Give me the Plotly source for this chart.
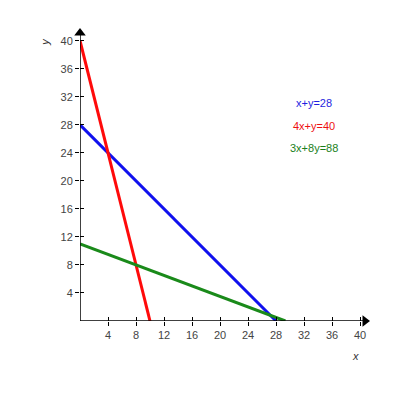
import plotly.graph_objects as go

ticks = [4, 8, 12, 16, 20, 24, 28, 32, 36, 40]

blue_x = [0, 28]
blue_y = [28, 0]
red_x = [0, 10]
red_y = [40, 0]
green_x = [0, 88 / 3]
green_y = [11, 0]

labels = ["x+y=28", "4x+y=40", "3x+8y=88"]
label_colors = ["#1f1fe0", "#ee1111", "#1a7f1a"]
label_y = [31.1, 27.9, 24.7]

XMAX = 40.7
YMAX = 41.1

fig = go.Figure()
fig.add_trace(go.Scatter(x=blue_x, y=blue_y, mode="lines",
                         line=dict(color="#1010ee", width=3), cliponaxis=False))
fig.add_trace(go.Scatter(x=red_x, y=red_y, mode="lines",
                         line=dict(color="#ff0a0a", width=3), cliponaxis=False))
fig.add_trace(go.Scatter(x=green_x, y=green_y, mode="lines",
                         line=dict(color="#1a8a1a", width=3), cliponaxis=False))
# axis arrows
fig.add_trace(go.Scatter(x=[XMAX], y=[0], mode="markers", cliponaxis=False,
                         marker=dict(symbol="triangle-right", size=10, color="black")))
fig.add_trace(go.Scatter(x=[0], y=[YMAX], mode="markers", cliponaxis=False,
                         marker=dict(symbol="triangle-up", size=10, color="black")))

for t, c, yy in zip(labels, label_colors, label_y):
    fig.add_annotation(x=33.4, y=yy, text=t, showarrow=False,
                       font=dict(family="Liberation Sans, Arial", size=11, color=c))

fig.add_annotation(xref="paper", yref="paper", x=0.965, y=-0.122, text="<i>x</i>",
                   showarrow=False, xanchor="center", yanchor="middle",
                   font=dict(family="Liberation Sans, Arial", size=11, color="#333"))
fig.add_annotation(xref="paper", yref="paper", x=-0.123, y=0.969, text="<i>y</i>",
                   showarrow=False, textangle=-90, xanchor="center", yanchor="middle",
                   font=dict(family="Liberation Sans, Arial", size=11, color="#333"))

axis_common = dict(showgrid=False, zeroline=False, showline=False,
                   tickvals=ticks, ticks="outside", ticklen=4, tickwidth=1,
                   tickcolor="black",
                   tickfont=dict(family="Liberation Sans, Arial", size=11, color="#444"))

fig.update_layout(
    width=400, height=400,
    margin=dict(l=72, r=43, t=25, b=87),
    paper_bgcolor="white", plot_bgcolor="white",
    showlegend=False,
    xaxis=dict(range=[0, XMAX], **axis_common),
    yaxis=dict(range=[0, YMAX], **axis_common),
    xaxis2=dict(range=[0, XMAX], overlaying="x", side="bottom", showgrid=False,
                zeroline=False, tickvals=ticks, ticks="inside", ticklen=4,
                tickcolor="black", showticklabels=False, anchor="y"),
    yaxis2=dict(range=[0, YMAX], overlaying="y", side="left", showgrid=False,
                zeroline=False, tickvals=ticks, ticks="inside", ticklen=4,
                tickcolor="black", showticklabels=False, anchor="x"),
    shapes=[
        dict(type="line", xref="x", yref="y", x0=0, y0=0, x1=XMAX, y1=0,
             line=dict(color="black", width=1.5)),
        dict(type="line", xref="x", yref="y", x0=0, y0=0, x1=0, y1=YMAX,
             line=dict(color="black", width=1.5)),
    ],
)
# dummy trace to activate the secondary axes
fig.add_trace(go.Scatter(x=[None], y=[None], xaxis="x2", yaxis="y2", showlegend=False))

fig.write_html("out.html")
